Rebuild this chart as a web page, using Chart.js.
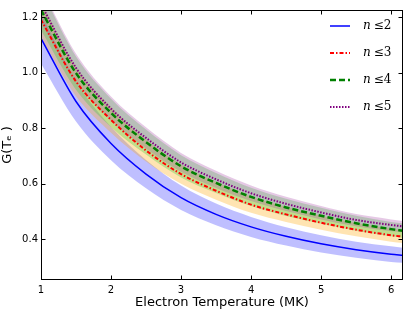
<!DOCTYPE html>
<html>
<head>
<meta charset="utf-8">
<script src="https://cdn.jsdelivr.net/npm/chart.js@4"></script>
<style>
  html, body { margin: 0; padding: 0; background: #fff; }
</style>
</head>
<body>
<canvas id="gChart" width="415" height="312"></canvas>
<script>
// electron temperature grid (MK)
const temps = [1, 1.5, 2, 2.5, 3, 3.5, 4, 4.5, 5, 5.5, 6, 6.17];

// G(Te) for each truncation level
const gN2 = [1.123, 0.896, 0.745, 0.635, 0.550, 0.490, 0.445, 0.411, 0.384, 0.363, 0.347, 0.343];
const gN2Hi = [1.213, 0.968, 0.805, 0.686, 0.594, 0.529, 0.481, 0.444, 0.415, 0.392, 0.375, 0.370];
const gN2Lo = [1.033, 0.824, 0.685, 0.584, 0.506, 0.451, 0.409, 0.378, 0.353, 0.334, 0.319, 0.316];

const gN3 = [1.190, 0.968, 0.830, 0.720, 0.635, 0.575, 0.525, 0.490, 0.460, 0.435, 0.415, 0.410];
const gN3Hi = [1.255, 1.021, 0.876, 0.760, 0.670, 0.607, 0.554, 0.517, 0.485, 0.459, 0.438, 0.433];
const gN3Lo = [1.125, 0.915, 0.784, 0.680, 0.600, 0.543, 0.496, 0.463, 0.435, 0.411, 0.392, 0.387];

const gN4 = [1.225, 0.998, 0.855, 0.750, 0.663, 0.603, 0.553, 0.515, 0.485, 0.458, 0.437, 0.431];
const gN4Hi = [1.299, 1.058, 0.906, 0.795, 0.703, 0.639, 0.586, 0.546, 0.514, 0.485, 0.463, 0.457];
const gN4Lo = [1.152, 0.938, 0.804, 0.705, 0.623, 0.567, 0.520, 0.484, 0.456, 0.431, 0.411, 0.405];

const gN5 = [1.245, 1.017, 0.870, 0.765, 0.677, 0.616, 0.566, 0.528, 0.497, 0.470, 0.452, 0.447];
const gN5Hi = [1.307, 1.068, 0.914, 0.803, 0.711, 0.647, 0.594, 0.553, 0.520, 0.491, 0.472, 0.466];
const gN5Lo = [1.183, 0.966, 0.827, 0.727, 0.643, 0.585, 0.538, 0.502, 0.472, 0.447, 0.429, 0.425];

const seriesLabels = ['n \u22642', 'n \u22643', 'n \u22644', 'n \u22645'];
const xTicks = [1, 2, 3, 4, 5, 6];
const yTicks = [0.4, 0.6, 0.8, 1.0, 1.2];

const pts = arr => arr.map((v, i) => ({ x: temps[i], y: v }));

function band(hi, lo, color, order) {
  return [
    { data: pts(hi), fill: '+1', backgroundColor: color, borderWidth: 0, pointRadius: 0, order: order, cubicInterpolationMode: 'monotone', isBand: true },
    { data: pts(lo), fill: false, borderWidth: 0, pointRadius: 0, order: order, cubicInterpolationMode: 'monotone', isBand: true }
  ];
}

function line(vals, label, color, width, dash, order) {
  return { label: label, data: pts(vals), borderColor: color, borderWidth: width, borderDash: dash,
           fill: false, pointRadius: 0, order: order, cubicInterpolationMode: 'monotone' };
}

const datasets = [
  ...band(gN2Hi, gN2Lo, 'rgba(0, 0, 255, 0.25)', 20),
  ...band(gN3Hi, gN3Lo, 'rgba(255, 165, 0, 0.3)', 19),
  ...band(gN4Hi, gN4Lo, 'rgba(50, 205, 50, 0.3)', 18),
  ...band(gN5Hi, gN5Lo, 'rgba(160, 60, 160, 0.28)', 17),
  line(gN2, seriesLabels[0], '#0000ff', 1.5, [], 4),
  line(gN3, seriesLabels[1], '#ff0000', 2, [4, 2, 1.5, 2], 3),
  line(gN4, seriesLabels[2], '#008000', 2.5, [6, 3], 2),
  line(gN5, seriesLabels[3], '#800080', 2, [1.5, 1.5], 1)
];

// box around the axes with inward ticks on all four sides
const framePlugin = {
  id: 'frame',
  afterDraw(chart) {
    const { ctx, chartArea: a, scales: { x, y } } = chart;
    const L = Math.round(a.left) + 0.5, R = Math.round(a.right) - 0.5;
    const T = Math.round(a.top) + 0.5, B = Math.round(a.bottom) - 0.5;
    ctx.save();
    ctx.strokeStyle = '#000';
    ctx.lineWidth = 1;
    ctx.strokeRect(L, T, R - L, B - T);
    ctx.beginPath();
    xTicks.forEach(v => {
      const px = Math.round(x.getPixelForValue(v)) + 0.5;
      ctx.moveTo(px, B); ctx.lineTo(px, B - 4);
      ctx.moveTo(px, T); ctx.lineTo(px, T + 4);
    });
    yTicks.forEach(v => {
      const py = Math.round(y.getPixelForValue(v)) + 0.5;
      ctx.moveTo(L, py); ctx.lineTo(L + 4, py);
      ctx.moveTo(R, py); ctx.lineTo(R - 4, py);
    });
    ctx.stroke();
    ctx.restore();
  }
};

// legend in the upper right corner, no box
const legendPlugin = {
  id: 'cornerLegend',
  afterDatasetsDraw(chart) {
    const ctx = chart.ctx;
    const lines = chart.data.datasets.filter(d => !d.isBand);
    ctx.save();
    lines.forEach((d, i) => {
      const yy = 26 + i * 27;
      ctx.strokeStyle = d.borderColor;
      ctx.lineWidth = d.borderWidth;
      ctx.setLineDash(d.borderDash);
      ctx.beginPath();
      ctx.moveTo(330, yy);
      ctx.lineTo(350, yy);
      ctx.stroke();
      ctx.setLineDash([]);
      ctx.fillStyle = '#000';
      ctx.textBaseline = 'middle';
      ctx.font = 'italic 12px "DejaVu Serif"';
      ctx.fillText(d.label.charAt(0), 363, yy);
      const w = ctx.measureText(d.label.charAt(0)).width;
      ctx.font = '12px "DejaVu Serif"';
      ctx.fillText(d.label.slice(2), 363 + w + 3, yy);
    });
    ctx.restore();
  }
};

const gChart = new Chart(document.getElementById('gChart').getContext('2d'), {
  type: 'line',
  data: { datasets: datasets },
  options: {
    responsive: false,
    animation: false,
    devicePixelRatio: 1,
    layout: { padding: { top: 10, right: 12, left: 0, bottom: 0 } },
    plugins: { legend: { display: false }, tooltip: { enabled: false } },
    scales: {
      x: {
        type: 'linear', min: 1, max: 6.17,
        grid: { display: false, drawTicks: false },
        border: { display: false },
        afterBuildTicks: s => { s.ticks = xTicks.map(v => ({ value: v })); },
        afterFit: s => { s.height = 32; },
        ticks: { padding: 4, color: '#000', maxRotation: 0, font: { family: 'DejaVu Sans', size: 10 }, callback: v => String(v) },
        title: { display: true, text: 'Electron Temperature (MK)', color: '#000',
                 font: { family: 'DejaVu Sans', size: 13 }, padding: { top: 0, bottom: 2 } }
      },
      y: {
        type: 'linear', min: 0.254, max: 1.225,
        grid: { display: false, drawTicks: false },
        border: { display: false },
        afterBuildTicks: s => { s.ticks = yTicks.map(v => ({ value: v })); },
        afterFit: s => { s.width = 41; },
        ticks: { padding: 3, color: '#000', font: { family: 'DejaVu Sans', size: 10 }, callback: v => v.toFixed(1) },
        title: { display: true, text: 'G(T\u2091 )', color: '#000',
                 font: { family: 'DejaVu Sans', size: 13 }, padding: { top: 0, bottom: 0 } }
      }
    }
  },
  plugins: [framePlugin, legendPlugin]
});
</script>
</body>
</html>
